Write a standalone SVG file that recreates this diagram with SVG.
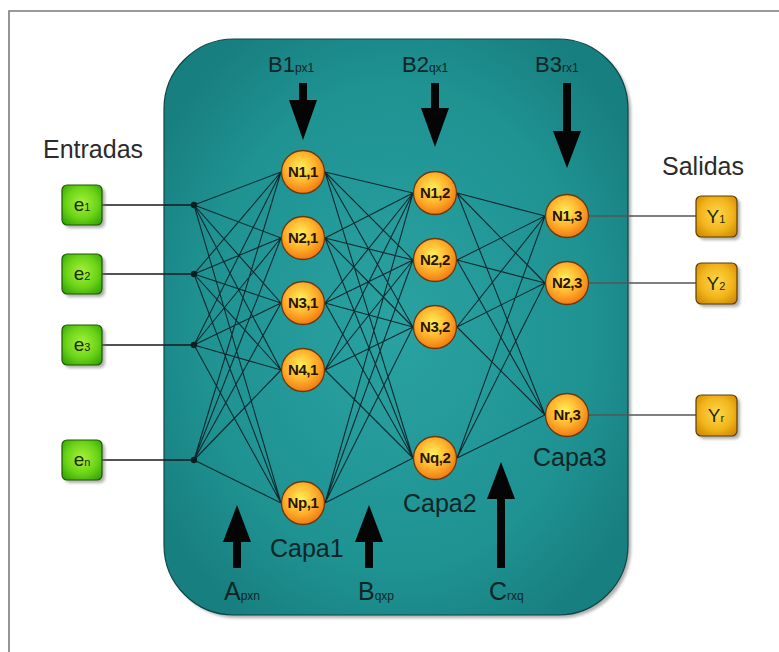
<svg xmlns="http://www.w3.org/2000/svg" width="779" height="652" viewBox="0 0 779 652">
  <defs>
    <radialGradient id="tealFill" cx="50%" cy="50%" r="60%">
      <stop offset="0" stop-color="#2aa2a2"/>
      <stop offset="0.7" stop-color="#1f9292"/>
      <stop offset="1" stop-color="#187f80"/>
    </radialGradient>
    <radialGradient id="neuronFill" cx="45%" cy="40%" r="60%">
      <stop offset="0" stop-color="#fff25a"/>
      <stop offset="0.55" stop-color="#ffb52e"/>
      <stop offset="1" stop-color="#f27a12"/>
    </radialGradient>
    <radialGradient id="inFill" cx="50%" cy="45%" r="65%">
      <stop offset="0" stop-color="#a6f23a"/>
      <stop offset="0.6" stop-color="#6cd418"/>
      <stop offset="1" stop-color="#38a806"/>
    </radialGradient>
    <radialGradient id="outFill" cx="50%" cy="45%" r="65%">
      <stop offset="0" stop-color="#ffd84a"/>
      <stop offset="0.6" stop-color="#f2b51c"/>
      <stop offset="1" stop-color="#d08c02"/>
    </radialGradient>
    <filter id="soft" x="-10%" y="-10%" width="130%" height="130%">
      <feGaussianBlur stdDeviation="1.5"/>
    </filter>
  </defs>
  <style>
    .frame { fill: none; stroke: #7a7a7a; stroke-width: 1.6; }
    .title { font-family: "Liberation Sans", Arial, sans-serif; font-size: 25px; fill: #2b2b2b; }
    .lbl { font-family: "Liberation Sans", Arial, sans-serif; fill: #0e2526; }
    .big { font-size: 22px; }
    .bigb { font-size: 25px; }
    .sub { font-size: 12px; }
    .capa { font-family: "Liberation Sans", Arial, sans-serif; font-size: 25px; fill: #0e2526; }
    .neuron circle { fill: url(#neuronFill); stroke: #6a3a0e; stroke-width: 1.3; }
    .neuron text { font-family: "Liberation Sans", Arial, sans-serif; font-size: 15px; font-weight: bold; fill: #2a1400; text-anchor: middle; letter-spacing: -0.4px; }
    .shadow { fill: #6e6e6e; opacity: 0.55; filter: url(#soft); }
    .inbox rect.b { fill: url(#inFill); stroke: #1f5a00; stroke-width: 1.2; }
    .outbox rect.b { fill: url(#outFill); stroke: #5a3f00; stroke-width: 1.2; }
    .boxtxt { font-family: "Liberation Sans", Arial, sans-serif; font-size: 19px; fill: #1c2a00; text-anchor: middle; }
    .boxsub { font-size: 11px; }
    .wire { fill: none; stroke: #0b2a30; stroke-width: 1.1; }
    .io { fill: none; stroke: #1a1a1a; stroke-width: 1.3; }
    .out { fill: none; stroke: #555; stroke-width: 1.3; }
    .dot { fill: #0b1f22; }
    .arrow { fill: #050505; }
  </style>

  <!-- outer frame -->
  <path class="frame" d="M9,652 V11 H779"/>

  <!-- network body -->
  <g id="body">
    <rect x="167" y="42" width="464" height="576" rx="70" ry="70" class="shadow"/>
    <rect x="164" y="39" width="464" height="576" rx="70" ry="70" fill="url(#tealFill)" stroke="#0c4646" stroke-width="1.2"/>
  </g>

  <!-- headings -->
  <text class="title" x="43" y="158">Entradas</text>
  <text class="title" x="662" y="175">Salidas</text>

  <!-- connectors -->
  <g id="connectors">
    <!-- input lines -->
    <path class="io" d="M102,205 H194 M102,274 H194 M102,345 H194 M102,460 H194"/>
    <!-- inputs to layer 1 -->
    <path class="wire" d="
      M194,205 L281,172 M194,205 L281,238 M194,205 L281,303 M194,205 L281,370 M194,205 L281,503
      M194,274 L281,172 M194,274 L281,238 M194,274 L281,303 M194,274 L281,370 M194,274 L281,503
      M194,345 L281,172 M194,345 L281,238 M194,345 L281,303 M194,345 L281,370 M194,345 L281,503
      M194,460 L281,172 M194,460 L281,238 M194,460 L281,303 M194,460 L281,370 M194,460 L281,503"/>
    <!-- layer 1 to layer 2 -->
    <path class="wire" d="
      M325,172 L413,193 M325,172 L413,260 M325,172 L413,327 M325,172 L413,458
      M325,238 L413,193 M325,238 L413,260 M325,238 L413,327 M325,238 L413,458
      M325,303 L413,193 M325,303 L413,260 M325,303 L413,327 M325,303 L413,458
      M325,370 L413,193 M325,370 L413,260 M325,370 L413,327 M325,370 L413,458
      M325,503 L413,193 M325,503 L413,260 M325,503 L413,327 M325,503 L413,458"/>
    <!-- layer 2 to layer 3 -->
    <path class="wire" d="
      M457,193 L545,216 M457,193 L545,283 M457,193 L545,415
      M457,260 L545,216 M457,260 L545,283 M457,260 L545,415
      M457,327 L545,216 M457,327 L545,283 M457,327 L545,415
      M457,458 L545,216 M457,458 L545,283 M457,458 L545,415"/>
    <!-- output lines -->
    <path class="out" d="M589,216 H696 M589,283 H696 M589,415 H696"/>
    <!-- junctions -->
    <circle class="dot" cx="194" cy="205" r="3.2"/>
    <circle class="dot" cx="194" cy="274" r="3.2"/>
    <circle class="dot" cx="194" cy="345" r="3.2"/>
    <circle class="dot" cx="194" cy="460" r="3.2"/>
  </g>

  <!-- bias and weight arrows -->
  <g id="arrows">
    <path class="arrow" d="M299,83 H307 V100 H317 L303,140 L289,100 H299 Z"/>
    <path class="arrow" d="M431,83 H439 V108 H449 L435,147 L421,108 H431 Z"/>
    <path class="arrow" d="M563,83 H571 V131 H581 L567,168 L553,131 H563 Z"/>
    <path class="arrow" d="M233,568 H241 V542 H251 L237,505 L223,542 H233 Z"/>
    <path class="arrow" d="M365,568 H373 V542 H383 L369,505 L355,542 H365 Z"/>
    <path class="arrow" d="M497,568 H505 V499 H515 L501,462 L487,499 H497 Z"/>
  </g>

  <!-- arrow labels -->
  <text class="lbl big" x="268" y="72">B1<tspan class="sub">px1</tspan></text>
  <text class="lbl big" x="402" y="72">B2<tspan class="sub">qx1</tspan></text>
  <text class="lbl big" x="535" y="72">B3<tspan class="sub">rx1</tspan></text>
  <text class="lbl bigb" x="224" y="600">A<tspan class="sub">pxn</tspan></text>
  <text class="lbl bigb" x="358" y="600">B<tspan class="sub">qxp</tspan></text>
  <text class="lbl bigb" x="489" y="600">C<tspan class="sub">rxq</tspan></text>

  <!-- layer captions -->
  <text class="capa" x="270" y="557">Capa1</text>
  <text class="capa" x="403" y="512">Capa2</text>
  <text class="capa" x="533" y="466">Capa3</text>

  <!-- inputs -->
  <g id="e1" class="inbox">
    <rect class="shadow" x="65" y="188" width="40" height="40" rx="5"/>
    <rect class="b" x="62" y="185" width="40" height="40" rx="5"/>
    <text class="boxtxt" x="82" y="211">e<tspan class="boxsub">1</tspan></text>
  </g>
  <g id="e2" class="inbox">
    <rect class="shadow" x="65" y="257" width="40" height="40" rx="5"/>
    <rect class="b" x="62" y="254" width="40" height="40" rx="5"/>
    <text class="boxtxt" x="82" y="280">e<tspan class="boxsub">2</tspan></text>
  </g>
  <g id="e3" class="inbox">
    <rect class="shadow" x="65" y="328" width="40" height="40" rx="5"/>
    <rect class="b" x="62" y="325" width="40" height="40" rx="5"/>
    <text class="boxtxt" x="82" y="351">e<tspan class="boxsub">3</tspan></text>
  </g>
  <g id="en" class="inbox">
    <rect class="shadow" x="65" y="443" width="40" height="40" rx="5"/>
    <rect class="b" x="62" y="440" width="40" height="40" rx="5"/>
    <text class="boxtxt" x="82" y="466">e<tspan class="boxsub">n</tspan></text>
  </g>

  <!-- layer 1 -->
  <g id="n11" class="neuron"><circle cx="303" cy="172" r="21.5"/><text x="303" y="177">N1,1</text></g>
  <g id="n21" class="neuron"><circle cx="303" cy="238" r="21.5"/><text x="303" y="243">N2,1</text></g>
  <g id="n31" class="neuron"><circle cx="303" cy="303" r="21.5"/><text x="303" y="308">N3,1</text></g>
  <g id="n41" class="neuron"><circle cx="303" cy="370" r="21.5"/><text x="303" y="375">N4,1</text></g>
  <g id="np1" class="neuron"><circle cx="303" cy="503" r="21.5"/><text x="303" y="508">Np,1</text></g>

  <!-- layer 2 -->
  <g id="n12" class="neuron"><circle cx="435" cy="193" r="21.5"/><text x="435" y="198">N1,2</text></g>
  <g id="n22" class="neuron"><circle cx="435" cy="260" r="21.5"/><text x="435" y="265">N2,2</text></g>
  <g id="n32" class="neuron"><circle cx="435" cy="327" r="21.5"/><text x="435" y="332">N3,2</text></g>
  <g id="nq2" class="neuron"><circle cx="435" cy="458" r="21.5"/><text x="435" y="463">Nq,2</text></g>

  <!-- layer 3 -->
  <g id="n13" class="neuron"><circle cx="567" cy="216" r="21.5"/><text x="567" y="221">N1,3</text></g>
  <g id="n23" class="neuron"><circle cx="567" cy="283" r="21.5"/><text x="567" y="288">N2,3</text></g>
  <g id="nr3" class="neuron"><circle cx="567" cy="415" r="21.5"/><text x="567" y="420">Nr,3</text></g>

  <!-- outputs -->
  <g id="y1" class="outbox">
    <rect class="shadow" x="699" y="199" width="41" height="41" rx="5"/>
    <rect class="b" x="696" y="196" width="41" height="41" rx="5"/>
    <text class="boxtxt" x="716" y="223">Y<tspan class="boxsub">1</tspan></text>
  </g>
  <g id="y2" class="outbox">
    <rect class="shadow" x="699" y="266" width="41" height="41" rx="5"/>
    <rect class="b" x="696" y="263" width="41" height="41" rx="5"/>
    <text class="boxtxt" x="716" y="290">Y<tspan class="boxsub">2</tspan></text>
  </g>
  <g id="yr" class="outbox">
    <rect class="shadow" x="699" y="398" width="41" height="41" rx="5"/>
    <rect class="b" x="696" y="395" width="41" height="41" rx="5"/>
    <text class="boxtxt" x="716" y="422">Y<tspan class="boxsub">r</tspan></text>
  </g>
</svg>
